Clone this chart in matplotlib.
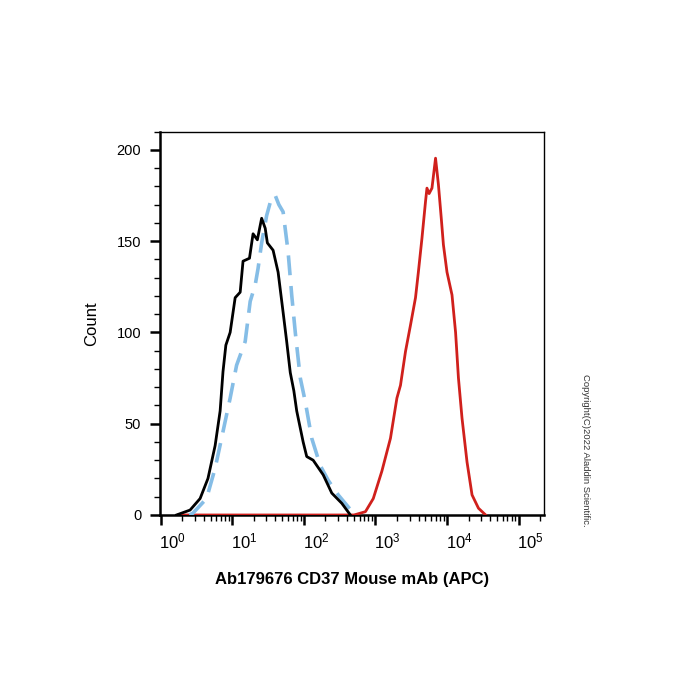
import numpy as np
import matplotlib
matplotlib.use('Agg')
import matplotlib.pyplot as plt
import matplotlib.transforms as mtransforms
from matplotlib.ticker import LogLocator, MultipleLocator, NullFormatter

plt.rcParams['font.family'] = ['Liberation Sans', 'DejaVu Sans']
plt.rcParams['mathtext.fontset'] = 'custom'
plt.rcParams['mathtext.rm'] = 'Liberation Sans'
plt.rcParams['mathtext.it'] = 'Liberation Sans'

# histogram traces, x as log10(intensity), y as count
black_log = [0.22, 0.41, 0.55, 0.66, 0.76, 0.83, 0.87, 0.91, 0.97, 1.04, 1.11, 1.15,
             1.24, 1.29, 1.35, 1.41, 1.46, 1.49, 1.57, 1.64, 1.71, 1.76, 1.81, 1.86,
             1.90, 1.99, 2.04, 2.13, 2.27, 2.39, 2.53, 2.65]
black_cnt = [0, 2.7, 9, 20, 38, 57, 78.5, 93, 100, 119, 122, 139,
             140.6, 154, 150.7, 162.5, 157, 149, 145, 133, 111, 95, 78, 68,
             57, 40, 32, 30, 22, 12, 6.4, 0]

blue_log = [0.40, 0.45, 0.64, 0.76, 0.85, 0.97, 1.06, 1.18, 1.25, 1.32, 1.36, 1.41,
            1.48, 1.55, 1.60, 1.65, 1.71, 1.78, 1.83, 1.88, 1.95, 2.02, 2.11, 2.23,
            2.34, 2.48, 2.65, 2.74]
blue_cnt = [0, 1, 9, 25.6, 42, 64, 82, 95, 117, 126, 135, 149,
            164, 174, 175, 170, 166, 144, 120.5, 100, 75, 62, 42, 27,
            19, 11, 3, 0]

red_log = [0.25, 2.70, 2.86, 2.97, 3.09, 3.21, 3.30, 3.35, 3.42, 3.49, 3.56, 3.60,
           3.65, 3.70, 3.72, 3.75, 3.79, 3.84, 3.88, 3.92, 3.95, 4.00, 4.07, 4.12,
           4.16, 4.21, 4.28, 4.35, 4.44, 4.54]
red_cnt = [0, 0, 1.8, 9, 24, 42, 64, 71, 89.5, 104, 119, 133,
           151.5, 171.7, 179, 176, 179, 195.4, 181, 162.5, 148, 133, 120.5, 100,
           75, 53, 29, 11, 3.7, 0]

decades = [0, 1, 2, 3, 4, 5]

fig = plt.figure(figsize=(7, 7), dpi=100)
ax = fig.add_axes([0.2286, 0.2643, 0.549, 0.5478])

ax.plot(10 ** np.array(red_log), red_cnt, color='#d0201c', lw=2.0, zorder=3)
ax.plot(10 ** np.array(blue_log), blue_cnt, color='#85bde6', lw=2.6,
        dashes=(5.5, 3.0), zorder=4)
ax.plot(10 ** np.array(black_log), black_cnt, color='black', lw=2.0, zorder=5)

ax.set_xscale('log')
ax.set_xlim(10 ** -0.01, 10 ** 5.36)
ax.set_ylim(0, 210)

ax.set_xticks([10.0 ** d for d in decades])
ax.set_xticklabels([])
ax.xaxis.set_minor_locator(LogLocator(base=10, subs=np.arange(2, 10), numticks=20))
ax.xaxis.set_minor_formatter(NullFormatter())
# decade labels sit a bit right of their ticks
lab_tr = mtransforms.offset_copy(ax.get_xaxis_transform(), fig=fig, x=12, y=-17, units='dots')
for d in decades:
    ax.text(10.0 ** d, 0, r'$\mathregular{10^{%d}}$' % d, transform=lab_tr,
            ha='center', va='top', fontsize=12)

ax.set_yticks([0, 50, 100, 150, 200])
ax.yaxis.set_minor_locator(MultipleLocator(10))
ax.tick_params(axis='both', which='major', length=7.5, width=1.8, labelsize=10.5)
ax.tick_params(axis='both', which='minor', length=4, width=1.0)
ax.tick_params(axis='y', which='major', pad=6)

for s in ['left', 'bottom']:
    ax.spines[s].set_linewidth(1.8)
for s in ['top', 'right']:
    ax.spines[s].set_linewidth(1.0)

ax.set_ylabel('Count', fontsize=12, labelpad=12.5)
ax.set_xlabel('Ab179676 CD37 Mouse mAb (APC)', fontsize=12, fontweight='bold')
ax.xaxis.set_label_coords(0.5, -0.148)

fig.text(0.837, 0.357, 'Copyright(C)2022 Aladdin Scientific.', rotation=-90,
         fontsize=6.8, color='#333333', ha='center', va='center')

plt.savefig('out.png', dpi=100)
